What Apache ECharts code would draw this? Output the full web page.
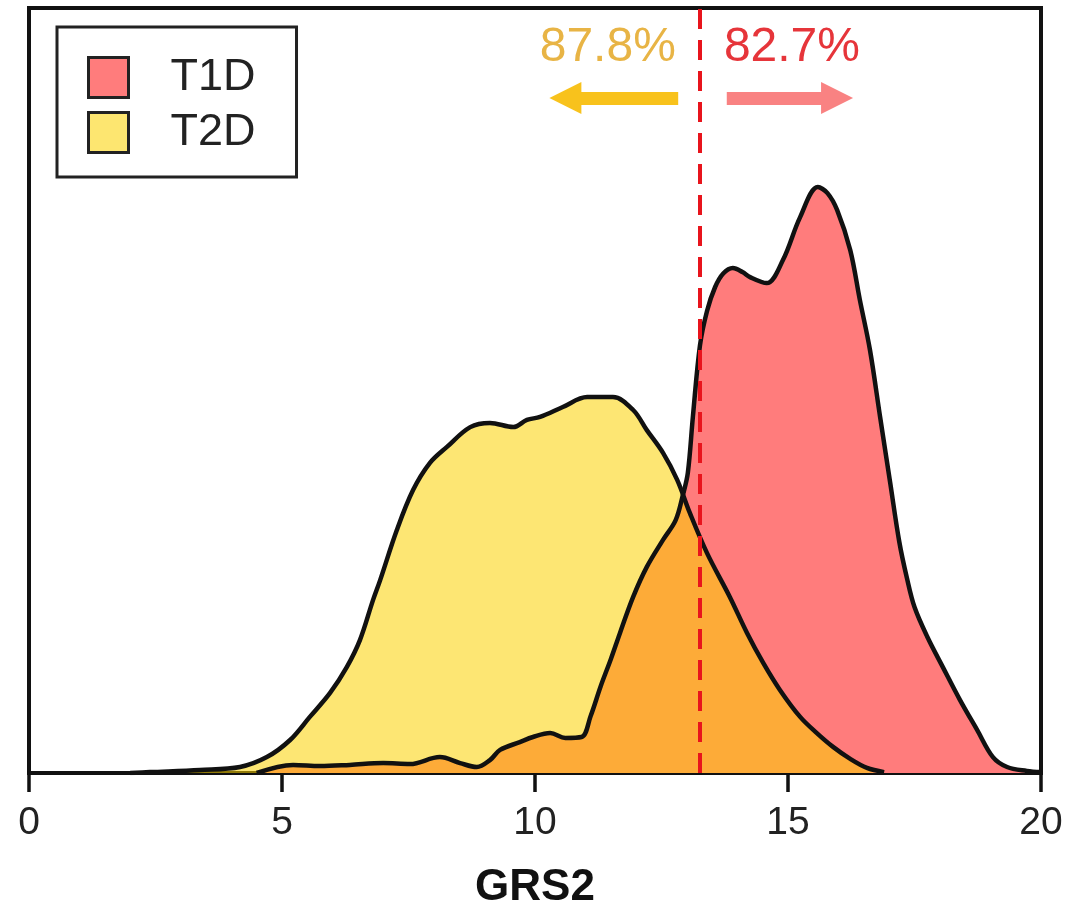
<!DOCTYPE html>
<html>
<head>
<meta charset="utf-8">
<script src="https://cdn.jsdelivr.net/npm/echarts@6/dist/echarts.min.js"></script>
<style>
html,body{margin:0;padding:0;background:#fff;}
#chart{width:1073px;height:910px;}
</style>
</head>
<body>
<div id="chart"></div>
<script>
// ---- data (density estimates) ----
const seriesNames = ['T1D', 'T2D'];
const t1dX = [4.5, 5.22, 5.75, 6.34, 7.0, 7.53, 8.12, 8.52, 8.85, 9.11, 9.31, 9.7, 9.96, 10.3, 10.6, 10.92, 11.1, 11.3, 11.5, 11.68, 11.94, 12.21, 12.53, 12.78, 12.92, 13.02, 13.12, 13.26, 13.4, 13.56, 13.72, 13.91, 14.1, 14.25, 14.58, 14.9, 15.24, 15.59, 15.78, 15.97, 16.23, 16.42, 16.62, 16.82, 17.02, 17.2, 17.35, 17.5, 17.75, 18.06, 18.4, 18.74, 19.05, 19.33, 19.72, 20];
const t1dY = [0.0, 0.0027, 0.0023, 0.0027, 0.0033, 0.003, 0.0053, 0.0033, 0.002, 0.0043, 0.0077, 0.0103, 0.012, 0.0133, 0.0117, 0.012, 0.019, 0.029, 0.038, 0.0467, 0.0587, 0.0687, 0.0777, 0.0843, 0.0925, 0.1, 0.1187, 0.1425, 0.154, 0.162, 0.1665, 0.1683, 0.167, 0.1653, 0.1633, 0.171, 0.1853, 0.1953, 0.1933, 0.1877, 0.1743, 0.1577, 0.141, 0.1187, 0.0967, 0.077, 0.065, 0.0553, 0.0455, 0.0353, 0.0243, 0.0143, 0.0053, 0.002, 0.0007, 0.0003];
const t2dX = [2.0, 2.39, 3.38, 4.17, 4.7, 5.16, 5.55, 5.95, 6.28, 6.54, 6.8, 6.94, 7.27, 7.59, 7.92, 8.26, 8.72, 9.11, 9.57, 9.84, 10.1, 10.55, 11.03, 11.54, 11.94, 12.21, 12.53, 12.81, 13.06, 13.4, 13.85, 14.19, 14.51, 14.84, 15.24, 15.57, 15.89, 16.23, 16.56, 16.9];
const t2dY = [0.0, 0.0003, 0.001, 0.002, 0.0053, 0.011, 0.0187, 0.0267, 0.0353, 0.0443, 0.0577, 0.0643, 0.081, 0.0943, 0.1033, 0.1087, 0.1153, 0.1167, 0.1153, 0.1177, 0.1187, 0.122, 0.1253, 0.1253, 0.121, 0.1143, 0.1067, 0.0977, 0.0867, 0.0733, 0.0587, 0.0467, 0.0367, 0.0277, 0.0187, 0.0133, 0.0087, 0.0047, 0.0017, 0.0003];
const xTicks = [0, 5, 10, 15, 20];
const threshold = 13.25;
const pctLabels = ['87.8%', '82.7%'];           // left (T2D), right (T1D)
const arrowY = 0.225;
const arrowLeft = [12.83, 10.6];                 // tail, head centre
const arrowRight = [13.79, 15.97];               // tail, head centre
const axisName = 'GRS2';

// ---- styles ----
const FONT = '"Liberation Sans", Arial, Helvetica, sans-serif';
const RED = '#ff7c7c';
const YEL_LEG = '#fde670';
const YEL_AREA = 'rgba(251,210,0,0.55)';
const INK = '#111';

const chart = echarts.init(document.getElementById('chart'), null, {renderer: 'canvas'});
const pairs = (xs, ys) => xs.map((x, i) => [x, ys[i]]);

chart.setOption({
  animation: false,
  backgroundColor: '#fff',
  textStyle: {fontFamily: FONT},
  grid: {left: 29, right: 32, top: 8, bottom: 137, outerBoundsMode: 'none', containLabel: false,
         show: true, borderColor: INK, borderWidth: 4, backgroundColor: 'transparent'},
  legend: {
    orient: 'vertical', left: 57, top: 27,
    padding: [28, 41, 22, 30],
    borderColor: '#222', borderWidth: 3, backgroundColor: '#fff',
    itemWidth: 40, itemHeight: 40, itemGap: 10,
    icon: 'rect',
    textStyle: {fontSize: 45, color: '#222', fontFamily: FONT, lineHeight: 40, padding: [0, 0, 0, 37]},
    data: [
      {name: seriesNames[0], icon: 'rect', itemStyle: {color: RED, borderColor: '#222', borderWidth: 3}},
      {name: seriesNames[1], icon: 'rect', itemStyle: {color: YEL_LEG, borderColor: '#222', borderWidth: 3}}
    ],
    selectedMode: false
  },
  xAxis: {
    type: 'value', min: xTicks[0], max: xTicks[xTicks.length - 1], interval: xTicks[1] - xTicks[0],
    axisLine: {lineStyle: {color: INK, width: 4}},
    axisTick: {length: 19, lineStyle: {color: INK, width: 3.5}},
    axisLabel: {fontSize: 39, color: '#222', margin: 31, fontFamily: FONT},
    splitLine: {show: false},
    name: axisName, nameLocation: 'middle', nameGap: 93,
    nameTextStyle: {fontSize: 44, fontWeight: 'bold', color: '#111', fontFamily: FONT}
  },
  yAxis: {type: 'value', min: 0, max: 0.255, show: false, splitLine: {show: false}},
  series: [
    {
      name: seriesNames[0], type: 'line', data: pairs(t1dX, t1dY),
      showSymbol: false, smooth: 0.35, z: 2,
      itemStyle: {color: RED},
      lineStyle: {color: INK, width: 4.5},
      areaStyle: {color: RED, opacity: 1},
      markLine: {
        silent: true, animation: false, z: 3, symbol: 'none',
        label: {show: true, position: 'insideMiddleTop', distance: 26, fontSize: 48, color: '#e6353a', fontFamily: FONT, padding: [0, 0, 0, 20], formatter: pctLabels[1]},
        data: [[
          {coord: [arrowRight[0], arrowY], symbol: 'none'},
          {coord: [arrowRight[1], arrowY], symbol: 'triangle', symbolSize: [32, 32]}
        ]],
        lineStyle: {color: '#f98282', width: 13, type: 'solid'}
      }
    },
    {
      name: seriesNames[1], type: 'line', data: pairs(t2dX, t2dY),
      showSymbol: false, smooth: 0.35, z: 2,
      itemStyle: {color: YEL_LEG},
      lineStyle: {color: INK, width: 4.5},
      areaStyle: {color: YEL_AREA, opacity: 1},
      markLine: {
        silent: true, animation: false, z: 3, symbol: 'none',
        data: [
          [
            {coord: [arrowLeft[1], arrowY], symbol: 'triangle', symbolSize: [32, 32]},
            {coord: [arrowLeft[0], arrowY], symbol: 'none',
             lineStyle: {color: '#f8c21c', width: 13, type: 'solid'},
             label: {show: true, position: 'insideMiddleTop', distance: 26, fontSize: 48, color: '#e8b445', fontFamily: FONT, padding: [0, 28, 0, 0], formatter: pctLabels[0]}}
          ],
          {xAxis: threshold, symbol: 'none', label: {show: false},
           lineStyle: {color: '#e8141c', width: 4, type: [20, 11]}}
        ],
        lineStyle: {color: '#f8c21c', width: 13, type: 'solid'}
      }
    }
  ]
});
</script>
</body>
</html>
